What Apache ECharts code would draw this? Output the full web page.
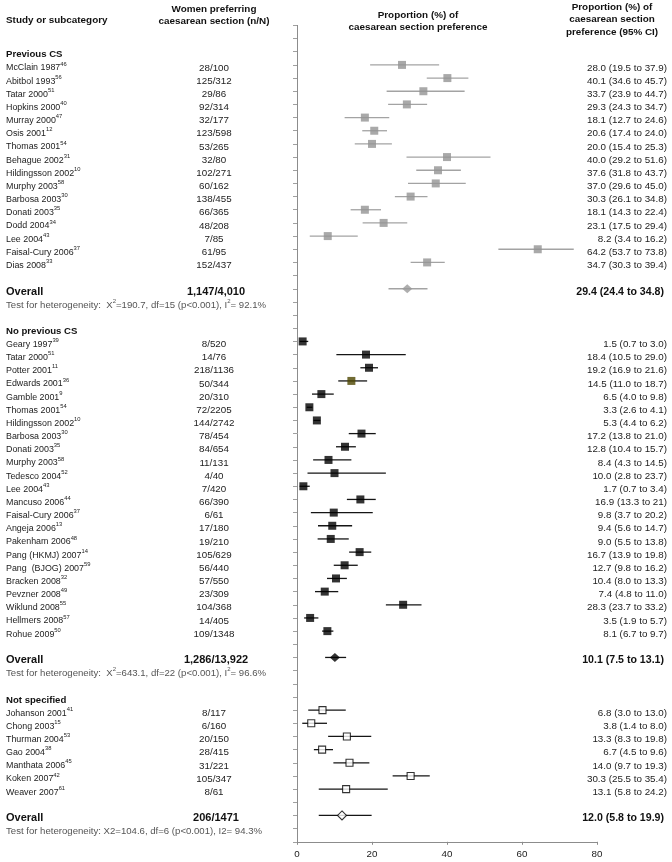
<!DOCTYPE html>
<html><head><meta charset="utf-8">
<script src="https://cdn.jsdelivr.net/npm/echarts@6/dist/echarts.min.js"></script>
<style>html,body{margin:0;padding:0;background:#fff}#c{width:672px;height:862px}</style>
</head><body><div id="c"></div>
<script>
// ---------- Group 1: Previous CS ----------
const prevNames = ['McClain 1987','Abitbol 1993','Tatar 2000','Hopkins 2000','Murray 2000','Osis 2001','Thomas 2001','Behague 2002','Hildingsson 2002','Murphy 2003','Barbosa 2003','Donati 2003','Dodd 2004','Lee 2004','Faisal-Cury 2006','Dias 2008'];
const prevRefs = ['46','56','51','40','47','12','54','31','10','58','30','35','34','43','37','33'];
const prevNN = ['28/100','125/312','29/86','92/314','32/177','123/598','53/265','32/80','102/271','60/162','138/455','66/365','48/208','7/85','61/95','152/437'];
const prevEst = [28.0,40.1,33.7,29.3,18.1,20.6,20.0,40.0,37.6,37.0,30.3,18.1,23.1,8.2,64.2,34.7];
const prevLo = [19.5,34.6,23.9,24.3,12.7,17.4,15.4,29.2,31.8,29.6,26.1,14.3,17.5,3.4,53.7,30.3];
const prevHi = [37.9,45.7,44.7,34.7,24.6,24.0,25.3,51.6,43.7,45.0,34.8,22.4,29.4,16.2,73.8,39.4];
const prevCI = ['28.0 (19.5 to 37.9)','40.1 (34.6 to 45.7)','33.7 (23.9 to 44.7)','29.3 (24.3 to 34.7)','18.1 (12.7 to 24.6)','20.6 (17.4 to 24.0)','20.0 (15.4 to 25.3)','40.0 (29.2 to 51.6)','37.6 (31.8 to 43.7)','37.0 (29.6 to 45.0)','30.3 (26.1 to 34.8)','18.1 (14.3 to 22.4)','23.1 (17.5 to 29.4)','8.2 (3.4 to 16.2)','64.2 (53.7 to 73.8)','34.7 (30.3 to 39.4)'];
const prevOverall = {nN:'1,147/4,010', est:29.4, lo:24.4, hi:34.8, ci:'29.4 (24.4 to 34.8)'};
const prevTest = ['Test for heterogeneity:  X','2','=190.7, df=15 (p<0.001), I','2','= 92.1%'];

// ---------- Group 2: No previous CS ----------
const noNames = ['Geary 1997','Tatar 2000','Potter 2001','Edwards 2001','Gamble 2001','Thomas 2001','Hildingsson 2002','Barbosa 2003','Donati 2003','Murphy 2003','Tedesco 2004','Lee 2004','Mancuso 2006','Faisal-Cury 2006','Angeja 2006','Pakenham 2006','Pang (HKMJ) 2007','Pang  (BJOG) 2007','Bracken 2008','Pevzner 2008','Wiklund 2008','Hellmers 2008','Rohue 2009'];
const noRefs = ['39','51','11','36','9','54','10','30','35','58','52','43','44','37','13','48','14','59','32','49','55','57','50'];
const noNN = ['8/520','14/76','218/1136','50/344','20/310','72/2205','144/2742','78/454','84/654','11/131','4/40','7/420','66/390','6/61','17/180','19/210','105/629','56/440','57/550','23/309','104/368','14/405','109/1348'];
const noEst = [1.5,18.4,19.2,14.5,6.5,3.3,5.3,17.2,12.8,8.4,10.0,1.7,16.9,9.8,9.4,9.0,16.7,12.7,10.4,7.4,28.3,3.5,8.1];
const noLo = [0.7,10.5,16.9,11.0,4.0,2.6,4.4,13.8,10.4,4.3,2.8,0.7,13.3,3.7,5.6,5.5,13.9,9.8,8.0,4.8,23.7,1.9,6.7];
const noHi = [3.0,29.0,21.6,18.7,9.8,4.1,6.2,21.0,15.7,14.5,23.7,3.4,21,20.2,14.7,13.8,19.8,16.2,13.3,11.0,33.2,5.7,9.7];
const noCI = ['1.5 (0.7 to 3.0)','18.4 (10.5 to 29.0)','19.2 (16.9 to 21.6)','14.5 (11.0 to 18.7)','6.5 (4.0 to 9.8)','3.3 (2.6 to 4.1)','5.3 (4.4 to 6.2)','17.2 (13.8 to 21.0)','12.8 (10.4 to 15.7)','8.4 (4.3 to 14.5)','10.0 (2.8 to 23.7)','1.7 (0.7 to 3.4)','16.9 (13.3 to 21)','9.8 (3.7 to 20.2)','9.4 (5.6 to 14.7)','9.0 (5.5 to 13.8)','16.7 (13.9 to 19.8)','12.7 (9.8 to 16.2)','10.4 (8.0 to 13.3)','7.4 (4.8 to 11.0)','28.3 (23.7 to 33.2)','3.5 (1.9 to 5.7)','8.1 (6.7 to 9.7)'];
const noOverall = {nN:'1,286/13,922', est:10.1, lo:7.5, hi:13.1, ci:'10.1 (7.5 to 13.1)'};
const noTest = ['Test for heterogeneity:  X','2','=643.1, df=22 (p<0.001), I','2','= 96.6%'];

// ---------- Group 3: Not specified ----------
const nsNames = ['Johanson 2001','Chong 2003','Thurman 2004','Gao 2004','Manthata 2006','Koken 2007','Weaver 2007'];
const nsRefs = ['41','15','53','38','45','42','61'];
const nsNN = ['8/117','6/160','20/150','28/415','31/221','105/347','8/61'];
const nsEst = [6.8,3.8,13.3,6.7,14.0,30.3,13.1];
const nsLo = [3.0,1.4,8.3,4.5,9.7,25.5,5.8];
const nsHi = [13.0,8.0,19.8,9.6,19.3,35.4,24.2];
const nsCI = ['6.8 (3.0 to 13.0)','3.8 (1.4 to 8.0)','13.3 (8.3 to 19.8)','6.7 (4.5 to 9.6)','14.0 (9.7 to 19.3)','30.3 (25.5 to 35.4)','13.1 (5.8 to 24.2)'];
const nsOverall = {nN:'206/1471', est:12.0, lo:5.8, hi:19.9, ci:'12.0 (5.8 to 19.9)'};
const nsTest = ['Test for heterogeneity: X2=104.6, df=6 (p<0.001), I2= 94.3%'];

const xTicks = [0,20,40,60,80];

// ---------- build rows ----------
const rows = [];
let r = 0;
function addGroup(g, title, names, refs, nn, est, lo, hi, ci, ov, test) {
  rows.push({idx:r++, kind:'head', g, name:title});
  for (let i = 0; i < names.length; i++) {
    rows.push({idx:r++, kind:'study', g, i, name:names[i], ref:refs[i], nN:nn[i], est:est[i], lo:lo[i], hi:hi[i], ci:ci[i]});
  }
  r++;
  rows.push({idx:r++, kind:'overall', g, name:'Overall', nN:ov.nN, est:ov.est, lo:ov.lo, hi:ov.hi, ci:ov.ci});
  rows.push({idx:r++, kind:'test', g, parts:test});
  r++;
}
addGroup(0, 'Previous CS', prevNames, prevRefs, prevNN, prevEst, prevLo, prevHi, prevCI, prevOverall, prevTest);
addGroup(1, 'No previous CS', noNames, noRefs, noNN, noEst, noLo, noHi, noCI, noOverall, noTest);
addGroup(2, 'Not specified', nsNames, nsRefs, nsNN, nsEst, nsLo, nsHi, nsCI, nsOverall, nsTest);

const FONT = "'Liberation Sans', Arial, sans-serif";
const FS_NAME = 8.9, FS_NUM = 9.8, FS_TEST = 9.6, FS_HEAD = 9.6, FS_HDR = 9.9;
const X_NAME = 6, X_NN = 214, X_CI = 667;
const TXT_DY = 3;

const rich = {
  n: {fontFamily:FONT, fontSize:FS_NAME, lineHeight:14, fill:'#222', color:'#222'},
  t: {fontFamily:FONT, fontSize:FS_TEST, lineHeight:14, fill:'#555', color:'#555'},
  s: {fontFamily:FONT, fontSize:5.8, lineHeight:7, verticalAlign:'top', fill:'#222', color:'#222'},
  ts: {fontFamily:FONT, fontSize:6, lineHeight:7, verticalAlign:'top', fill:'#555', color:'#555'}
};

function txt(x, y, text, opt) {
  return {type:'text', silent:true, style:Object.assign({x, y, text, verticalAlign:'middle', align:'left',
    fontFamily:FONT, fontSize:FS_NUM, fill:'#222'}, opt||{})};
}

function renderText(params, api) {
  const row = rows[params.dataIndex];
  const y = api.coord([0, row.idx])[1] + TXT_DY;
  const ch = [];
  if (row.kind === 'head') {
    ch.push(txt(X_NAME, y, row.name, {fontWeight:'bold', fontSize:FS_HEAD, fill:'#111'}));
  } else if (row.kind === 'study') {
    ch.push(txt(X_NAME, y, '{n|' + row.name + '}{s|' + row.ref + '}', {rich}));
    ch.push(txt(X_NN, y, row.nN, {align:'center'}));
    ch.push(txt(X_CI, y, row.ci, {align:'right'}));
  } else if (row.kind === 'overall') {
    ch.push(txt(X_NAME, y, row.name, {fontWeight:'bold', fontSize:11, fill:'#111'}));
    ch.push(txt(X_NN + 2, y, row.nN, {align:'center', fontWeight:'bold', fontSize:11, fill:'#111'}));
    ch.push(txt(X_CI - 3, y, row.ci, {align:'right', fontWeight:'bold', fontSize:10.6, fill:'#111'}));
  } else if (row.kind === 'test') {
    const s = row.parts.map((p, k) => k % 2 ? '{ts|' + p + '}' : '{t|' + p + '}').join('');
    ch.push(txt(X_NAME, y, s, {rich}));
  }
  return {type:'group', children:ch};
}

const groupStyle = [
  {line:'#a3a3a3', sq:'#939393', dia:'#9a9a9a', open:false},
  {line:'#151515', sq:'#000000', dia:'#000000', open:false},
  {line:'#151515', sq:'#ffffff', dia:'#ffffff', open:true}
];

function ciSeries(g) {
  const data = rows.filter(x => x.g === g && (x.kind === 'study' || x.kind === 'overall')).map(x => [x.lo, x.hi, x.idx]);
  return {
    type:'custom', z:1, silent:true, clip:false,
    encode:{x:[0,1], y:2},
    data,
    renderItem(params, api) {
      const a = api.coord([api.value(0), api.value(2)]);
      const b = api.coord([api.value(1), api.value(2)]);
      return {type:'line', shape:{x1:a[0], y1:a[1], x2:b[0], y2:b[1]}, style:{stroke:groupStyle[g].line, lineWidth:1.3}};
    }
  };
}

function pointSeries(g) {
  const st = groupStyle[g];
  const data = rows.filter(x => x.g === g && x.kind === 'study').map(x => {
    const d = {value:[x.est, x.idx]};
    if (g === 1 && x.i === 3) d.itemStyle = {color:'#4d4600'};
    return d;
  });
  return {
    type:'scatter', z:3, silent:true, symbol:'rect', symbolSize: st.open ? 7 : 8,
    itemStyle: st.open ? {color:'#fff', borderColor:'#000', borderWidth:1.1} : {color:st.sq},
    data
  };
}
function diamondSeries(g) {
  const st = groupStyle[g];
  const data = rows.filter(x => x.g === g && x.kind === 'overall').map(x => [x.est, x.idx]);
  return {
    type:'scatter', z:3, silent:true, symbol:'diamond', symbolSize: st.open ? [9,9] : [10,9],
    itemStyle: st.open ? {color:'#fff', borderColor:'#000', borderWidth:1.1} : {color:st.dia},
    data
  };
}

const series = [];
for (let g = 0; g < 3; g++) { series.push(ciSeries(g)); series.push(pointSeries(g)); series.push(diamondSeries(g)); }
series.push({type:'custom', z:5, silent:true, clip:false, encode:{x:0, y:1},
  data: rows.map(x => [0, x.idx]), renderItem: renderText});

const hdr = (x, y, text, align) => ({type:'text', x, y, silent:true,
  style:{x:0, y:0, text, align:align||'center', verticalAlign:'middle', fontFamily:FONT, fontSize:FS_HDR, fontWeight:'bold', fill:'#111'}});

const option = {
  animation:false,
  backgroundColor:'#fff',
  grid:{left:297, right:75, top:25.4, bottom:20.2, containLabel:false},
  xAxis:{type:'value', min:0, max:80, interval:20,
    axisLine:{show:true, onZero:false, lineStyle:{color:'#8c8c8c', width:1}},
    axisTick:{show:true, length:3, lineStyle:{color:'#8c8c8c'}},
    axisLabel:{fontFamily:FONT, fontSize:9.8, color:'#222', margin:7.5, customValues:xTicks},
    splitLine:{show:false}},
  yAxis:{type:'value', inverse:true, min:-2, max:60, interval:1,
    axisLine:{show:true, onZero:false, lineStyle:{color:'#8c8c8c', width:1}},
    axisTick:{show:true, length:4, lineStyle:{color:'#a0a0a0'}},
    axisLabel:{show:false}, splitLine:{show:false}},
  graphic:[
    hdr(6, 20, 'Study or subcategory', 'left'),
    hdr(214, 9, 'Women preferring'),
    hdr(214, 21, 'caesarean section (n/N)'),
    hdr(418, 15, 'Proportion (%) of'),
    hdr(418, 27, 'caesarean section preference'),
    hdr(612, 7, 'Proportion (%) of'),
    hdr(612, 19.5, 'caesarean section'),
    hdr(612, 32, 'preference (95% CI)')
  ],
  series
};
const chart = echarts.init(document.getElementById('c'), null, {renderer:'canvas'});
chart.setOption(option);
</script></body></html>
